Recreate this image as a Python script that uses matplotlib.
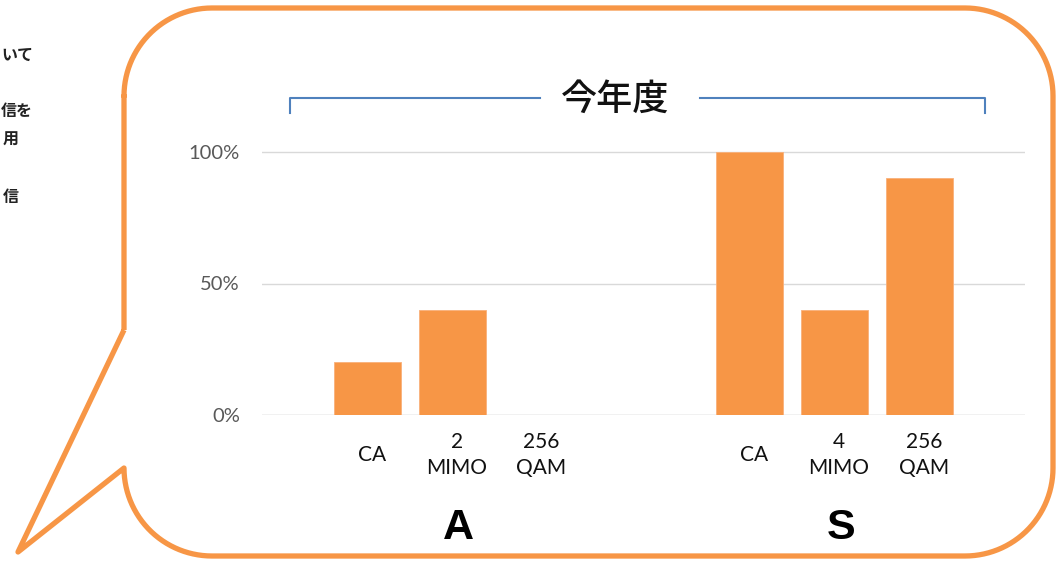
import numpy as np
import matplotlib
matplotlib.use("Agg")
import matplotlib.pyplot as plt
from matplotlib.path import Path
from matplotlib.patches import PathPatch
import matplotlib.transforms as mtransforms

plt.rcParams["font.family"] = ["Lato", "Noto Sans CJK JP", "DejaVu Sans"]

# data
groups = ["A", "S"]
categories = ["CA", "2\nMIMO", "256\nQAM", "CA", "4\nMIMO", "256\nQAM"]
values = [0.20, 0.40, 0.0, 1.00, 0.40, 0.90]
yticks = [0.0, 0.5, 1.0]
ytick_labels = ["0%", "50%", "100%"]
bracket_title = "今年度"
side_notes = ["いて", "信を", "用", "信"]

orange = "#F79646"
W, H = 1062, 562

fig = plt.figure(figsize=(W / 100, H / 100), dpi=100)
fig.patch.set_facecolor("white")

# background layer in pixel coordinates for the speech bubble and bracket
bg = fig.add_axes([0, 0, 1, 1], zorder=0)
bg.set_xlim(0, W)
bg.set_ylim(H, 0)
bg.axis("off")

L, R, T, B, r = 124, 1053, 8, 556, 88


def arc(cx, cy, a0, a1):
    t = np.radians(np.linspace(a0, a1, 30))
    return list(zip(cx + r * np.cos(t), cy + r * np.sin(t)))


pts = [(L, 330), (L, T + r)]
pts += arc(L + r, T + r, 180, 270)
pts += arc(R - r, T + r, 270, 360)
pts += arc(R - r, B - r, 0, 90)
pts += arc(L + r, B - r, 90, 180)
pts += [(18, 552), (L, 330)]
bubble = PathPatch(Path(pts), facecolor="white", edgecolor=orange, lw=3.8,
                   joinstyle="round")
bg.add_patch(bubble)

# bracket over the chart
blue = "#4F81BD"
bg.plot([290, 290, 540], [113, 98, 98], color=blue, lw=1.5)
bg.plot([700, 985, 985], [98, 98, 113], color=blue, lw=1.5)
bg.text(615, 100, bracket_title, ha="center", va="center", fontsize=26,
        family=["Noto Sans CJK JP"], weight="medium", color="#111111")

# notes at the left edge
for txt, (xl, yc) in zip(side_notes, [(1, 55), (1, 111), (3, 140), (3, 197)]):
    bg.text(xl, yc, txt, ha="left", va="center", fontsize=11.5,
            family=["Noto Sans CJK JP"], weight="bold", color="#222222")

# bar chart
x_left, x_right = 262, 1025
y_bottom, y_top = 415, 140
ax = fig.add_axes([x_left / W, (H - y_bottom) / H, (x_right - x_left) / W,
                   (y_bottom - y_top) / H], zorder=1)
ax.patch.set_alpha(0)

xpos = [i + 1.5 * (i // 3) for i in range(len(values))]
ax.bar(xpos, values, width=0.79, color=orange, edgecolor="#F9B07A", lw=0.6,
       zorder=2)

ax.set_xlim(-1.24, 7.74)
ax.set_ylim(0, 275 / 263)
ax.set_yticks(yticks)
ax.set_yticklabels(ytick_labels, fontsize=14.5, color="#595959")
ax.tick_params(axis="y", length=0, pad=16)
ax.set_xticks([])
for s in ax.spines.values():
    s.set_visible(False)
ax.grid(axis="y", color="#D9D9D9", lw=1.0, zorder=0)
ax.axhline(0, color="#D9D9D9", lw=1.0, zorder=1)

trans = mtransforms.blended_transform_factory(ax.transData, ax.transAxes)
for x, lab in zip(xpos, categories):
    ax.text(x + 0.05, -0.145, lab, transform=trans, ha="center", va="center",
            fontsize=15, color="#111111", linespacing=1.4)

for g, name in enumerate(groups):
    gx = np.mean(xpos[g * 3:(g + 1) * 3]) + 0.07
    ax.text(gx, -0.41, name, transform=trans, ha="center", va="center",
            fontsize=31, weight="bold", family=["Liberation Sans"],
            color="black")

fig.savefig("out.png", dpi=100)
